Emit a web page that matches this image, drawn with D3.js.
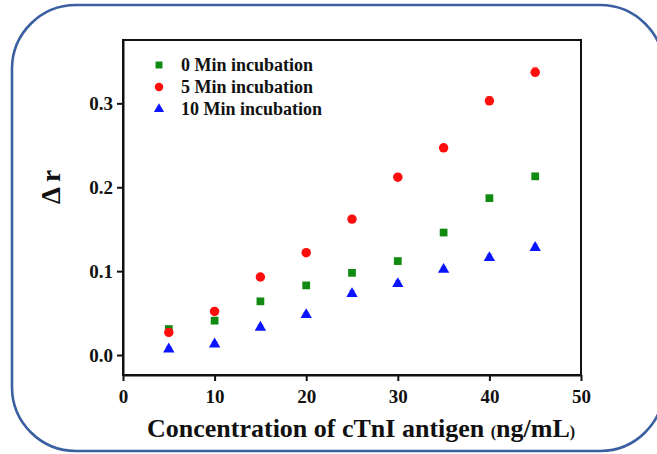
<!DOCTYPE html>
<html>
<head>
<meta charset="utf-8">
<script src="https://cdn.jsdelivr.net/npm/d3@7"></script>
<style>
  html, body { margin: 0; padding: 0; background: #fff; }
  svg { display: block; }
  svg text { font-family: "Liberation Serif", serif; font-weight: bold; fill: #111; }
</style>
</head>
<body>
<svg id="chart" width="657" height="454"></svg>
<script>
// ---- Data ----
const concentrations = [5, 10, 15, 20, 25, 30, 35, 40, 45];
const seriesNames = ["0 Min incubation", "5 Min incubation", "10 Min incubation"];
const min0Values  = [0.031, 0.041, 0.064, 0.083, 0.098, 0.112, 0.146, 0.187, 0.213];
const min5Values  = [0.027, 0.052, 0.093, 0.122, 0.162, 0.212, 0.247, 0.303, 0.337];
const min10Values = [0.007, 0.013, 0.033, 0.048, 0.073, 0.085, 0.102, 0.116, 0.128];
const min0Errors  = [0.002, 0.002, 0.002, 0.002, 0.002, 0.002, 0.002, 0.002, 0.002];
const min5Errors  = [0.002, 0.002, 0.002, 0.002, 0.003, 0.003, 0.003, 0.005, 0.006];
const min10Errors = [0.003, 0.003, 0.003, 0.003, 0.004, 0.004, 0.003, 0.004, 0.004];
const xTicks = [0, 10, 20, 30, 40, 50];
const yTicks = [0.0, 0.1, 0.2, 0.3];

const svg = d3.select("#chart");

// rounded frame
svg.append("rect")
  .attr("x", 12).attr("y", 5)
  .attr("width", 652).attr("height", 446)
  .attr("rx", 64).attr("ry", 64)
  .attr("fill", "none")
  .attr("stroke", "#3b60a1")
  .attr("stroke-width", 2.6);

const plot = { left: 123, right: 581, top: 40, bottom: 375 };

const x = d3.scaleLinear().domain([0, 50]).range([plot.left, plot.right]);
const y = d3.scaleLinear().domain([-0.0238, 0.3755]).range([plot.bottom, plot.top]);

// plot box
svg.append("rect")
  .attr("x", plot.left).attr("y", plot.top)
  .attr("width", plot.right - plot.left).attr("height", plot.bottom - plot.top)
  .attr("fill", "none").attr("stroke", "#111").attr("stroke-width", 2);

// axes
const xAxis = svg.append("g")
  .attr("transform", `translate(0,${plot.bottom})`)
  .call(d3.axisBottom(x).tickValues(xTicks).tickSize(6).tickSizeOuter(0).tickPadding(9).tickFormat(d3.format("d")));
const yAxis = svg.append("g")
  .attr("transform", `translate(${plot.left},0)`)
  .call(d3.axisLeft(y).tickValues(yTicks).tickSize(6).tickSizeOuter(0).tickPadding(4).tickFormat(d3.format(".1f")));

[xAxis, yAxis].forEach(g => {
  g.attr("font-family", null).attr("font-size", null);
  g.select(".domain").attr("stroke", "#111").attr("stroke-width", 2);
  g.selectAll(".tick line").attr("stroke", "#111").attr("stroke-width", 2);
  g.selectAll(".tick text").attr("fill", "#111").style("font-size", "19px");
});

// series
const series = [
  { name: seriesNames[0], values: min0Values,  errors: min0Errors,  color: "#118a11", err: "#7fc07f", symbol: d3.symbolSquare,   size: 60 },
  { name: seriesNames[1], values: min5Values,  errors: min5Errors,  color: "#ff0d0d", err: "#ff9a9a", symbol: d3.symbolCircle,   size: 70 },
  { name: seriesNames[2], values: min10Values, errors: min10Errors, color: "#0a14ff", err: "#9a9cff", symbol: d3.symbolTriangle, size: 56 }
];

series.forEach(s => {
  const pts = concentrations.map((c, i) => ({ c, v: s.values[i], e: s.errors[i] }));
  const g = svg.append("g");
  g.selectAll("line.err").data(pts).join("line")
    .attr("x1", d => x(d.c)).attr("x2", d => x(d.c))
    .attr("y1", d => y(d.v - d.e)).attr("y2", d => y(d.v + d.e))
    .attr("stroke", s.err).attr("stroke-width", 1.2);
  g.selectAll("line.cap").data(pts).join("line")
    .attr("x1", d => x(d.c) - 3).attr("x2", d => x(d.c) + 3)
    .attr("y1", d => y(d.v + d.e)).attr("y2", d => y(d.v + d.e))
    .attr("stroke", s.err).attr("stroke-width", 1);
  g.selectAll("path").data(pts).join("path")
    .attr("transform", d => `translate(${x(d.c)},${y(d.v)})`)
    .attr("d", d3.symbol().type(s.symbol).size(s.size))
    .attr("fill", s.color);
});

// legend
const legendRowsY = [65, 87, 109];
series.forEach((s, i) => {
  svg.append("path")
    .attr("transform", `translate(159,${legendRowsY[i]})`)
    .attr("d", d3.symbol().type(s.symbol).size(s.size * 0.8))
    .attr("fill", s.color);
  svg.append("text")
    .attr("x", 181).attr("y", legendRowsY[i] + 6)
    .style("font-size", "18px")
    .text(s.name);
});

// y title
svg.append("text")
  .attr("transform", "translate(60,187) rotate(-90)")
  .attr("text-anchor", "middle")
  .style("font-size", "27px")
  .text("Δ r");

// x title
const xt = svg.append("text")
  .attr("x", 147).attr("y", 437)
  .style("font-size", "26px");
xt.append("tspan").text("Concentration of cTnI antigen ");
xt.append("tspan").style("font-size", "16px").text("(");
xt.append("tspan").style("font-size", "26px").text("ng/mL");
xt.append("tspan").style("font-size", "16px").text(")");
</script>
</body>
</html>
